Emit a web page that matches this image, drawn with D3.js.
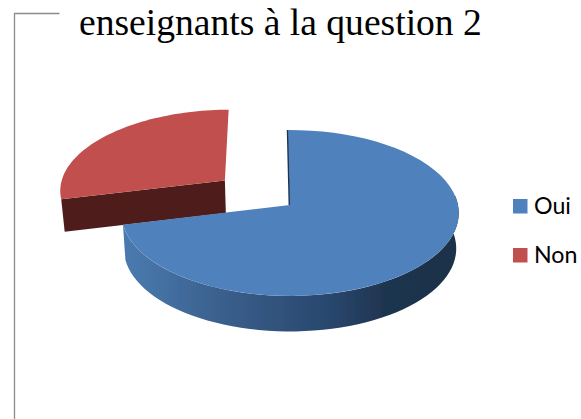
<!DOCTYPE html>
<html><head><meta charset="utf-8">
<script src="https://cdn.jsdelivr.net/npm/d3@7"></script>
<style>html,body{margin:0;padding:0;background:#fff}svg{display:block}</style></head>
<body><svg id="c" width="581" height="419"></svg>
<script>
const categories = ["Oui", "Non"];
const values = [71.4, 28.6];
const colors = ["#4f81bd", "#c0504d"];
const wallColors = ["#1f3550", "#4f1f1e"];
const titleText = "enseignants à la question 2";

const svg = d3.select("#c");
// frame
svg.append("path").attr("d", "M59.5 13.5H14.5V419").attr("fill", "none").attr("stroke", "#8c8c8c").attr("stroke-width", 1.3);
svg.append("text").attr("x", 79).attr("y", 35).attr("font-family", "Liberation Serif").attr("font-size", 37.6).attr("fill", "#000").text(titleText);

const defs = svg.append("defs");
const g = defs.append("linearGradient").attr("id", "side").attr("gradientUnits", "userSpaceOnUse").attr("x1", 123).attr("x2", 459).attr("y1", 0).attr("y2", 0);
g.append("stop").attr("offset", 0).attr("stop-color", "#4a7bb0");
g.append("stop").attr("offset", 0.3).attr("stop-color", "#3a5f8c");
g.append("stop").attr("offset", 0.62).attr("stop-color", "#28466c");
g.append("stop").attr("offset", 0.78).attr("stop-color", "#1f3550");
g.append("stop").attr("offset", 1).attr("stop-color", "#1c3148");
defs.append("filter").attr("id", "soft").append("feGaussianBlur").attr("stdDeviation", 0.45);

// Perspective projection of the disc
const cx = 290, K = 168;
const xS = d3.scaleLinear().domain([-1, 1]).range([cx - K, cx + K]);
const yS = d3.scaleLinear().domain([-1, 1]).range([205 - 82.2, 205 + 82.2]);
const persp = -0.096;
function proj(u, v, low, depth) {
  const d = 1 + persp * v;
  const k = low ? 0.985 : 1;
  return [cx + (xS(u) - cx) * k / d, (yS(0) + (yS(v) - yS(0)) / d) + (low ? depth : 0)];
}
const pie = d3.pie().sort(null).startAngle(-0.012);
const arcs = pie(values);
const line = d3.line();
const sample = (a0, a1) => d3.range(0, 61).map(i => a0 + (a1 - a0) * i / 60);

const plot = svg.append("g").attr("filter", "url(#soft)");

// red slice, pulled out of the pie
const redArc = arcs[1], blueArc = arcs[0];
const redMid = (redArc.startAngle + redArc.endAngle) / 2;
const redE = [Math.sin(redMid) * 0.49 - 0.012, -Math.cos(redMid) * 0.49 - 0.005];
const redPt = (t, low) => proj(Math.sin(t) + redE[0], -Math.cos(t) + redE[1], low, 32.5);
const redApex = low => proj(redE[0], redE[1], low, 32.5);
plot.append("path").attr("fill", wallColors[1]).attr("d", line([
  redPt(redArc.startAngle, false), redApex(false), redApex(true), redPt(redArc.startAngle, true)
]) + "Z");
plot.append("path").attr("fill", colors[1]).attr("d", line([
  redApex(false), ...sample(redArc.startAngle, redArc.endAngle).map(t => redPt(t, false))
]) + "Z");

// blue slice: outer wall, thin cut edge, top
const bluePt = (t, low) => proj(Math.sin(t), -Math.cos(t), low, 35.5);
const sideAngles = sample(Math.PI * 0.46, blueArc.endAngle);
plot.append("path").attr("fill", "url(#side)").attr("d", line([
  ...sideAngles.map(t => bluePt(t, false)), ...sideAngles.slice().reverse().map(t => bluePt(t, true))
]) + "Z");
const edgeTop = bluePt(blueArc.startAngle, false), apex = proj(0, 0, false, 0);
plot.append("path").attr("fill", "none").attr("stroke", wallColors[0]).attr("stroke-width", 2).attr("d", line([[edgeTop[0] - 0.4, edgeTop[1]], [apex[0] - 0.4, apex[1]]]));
plot.append("path").attr("fill", colors[0]).attr("d", line([
  apex, ...sample(blueArc.startAngle, blueArc.endAngle).map(t => bluePt(t, false))
]) + "Z");

// legend
const ly = d3.scalePoint().domain(categories).range([206.5, 255.5]);
const lg = svg.append("g").selectAll("g").data(categories).join("g");
lg.append("rect").attr("x", 513).attr("y", d => ly(d) - 7.5).attr("width", 14.5).attr("height", 14.5).attr("fill", (d, i) => colors[i]);
lg.append("text").attr("x", 534).attr("y", d => ly(d) + 7.5).attr("font-family", "Lato").attr("font-size", 23.2).attr("fill", "#000").text(d => d);
</script></body></html>
